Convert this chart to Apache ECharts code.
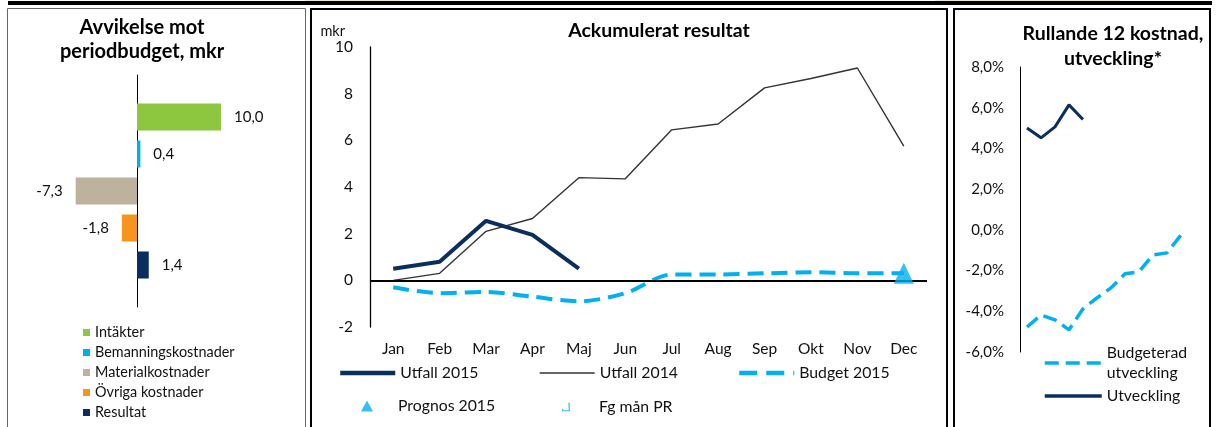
<!DOCTYPE html>
<html>
<head>
<meta charset="utf-8">
<script src="https://cdn.jsdelivr.net/npm/echarts@6/dist/echarts.min.js"></script>
<style>
html,body{margin:0;padding:0;background:#fff;}
#c{width:1216px;height:427px;}
</style>
</head>
<body>
<div id="c"></div>
<script>
// ---------- DATA ----------
const barCategories = ['Intäkter', 'Bemanningskostnader', 'Materialkostnader', 'Övriga kostnader', 'Resultat'];
const barValues = [10.0, 0.4, -7.3, -1.8, 1.4];

const months = ['Jan', 'Feb', 'Mar', 'Apr', 'Maj', 'Jun', 'Jul', 'Aug', 'Sep', 'Okt', 'Nov', 'Dec'];
const utfall2015 = [0.5, 0.8, 2.55, 1.95, 0.5];
const utfall2014 = [0, 0.3, 2.1, 2.65, 4.4, 4.35, 6.45, 6.7, 8.25, 8.65, 9.1, 5.75];
const budget2015 = [-0.3, -0.55, -0.5, -0.7, -0.9, -0.55, 0.25, 0.25, 0.3, 0.35, 0.3, 0.3];
const prognos2015 = [['Dec', 0.3]];
const fgManPR = [];

const rollMonths = ['Jan', 'Feb', 'Mar', 'Apr', 'Maj', 'Jun', 'Jul', 'Aug', 'Sep', 'Okt', 'Nov', 'Dec'];
const budgeteradUtveckling = [-4.77, -4.18, -4.42, -4.91, -3.88, -3.34, -2.85, -2.16, -2.06, -1.23, -1.13, -0.25];
const utveckling = [5.0, 4.52, 5.06, 6.14, 5.42];

// ---------- STYLE ----------
const FONT = 'Lato';
const TXT = '#111';
const barColors = ['#8dc63f', '#00aeef', '#bcb29e', '#f7941d', '#0a2f5f'];
const NAVY = '#0a2f5f';
const CYAN = '#00b0f0';

const chart = echarts.init(document.getElementById('c'), null, {renderer: 'canvas'});

const fmtComma = (v, d) => v.toFixed(d).replace('.', ',');

const barSeries = barCategories.map((name, i) => ({
  name: name,
  type: 'bar',
  xAxisIndex: 0, yAxisIndex: 0,
  stack: 'dev',
  barWidth: 27,
  itemStyle: {color: barColors[i]},
  label: {
    show: true,
    position: barValues[i] < 0 ? 'left' : 'right',
    distance: 13,
    fontFamily: FONT, fontSize: 15, color: TXT,
    formatter: p => fmtComma(p.value, 1)
  },
  data: barCategories.map((c, j) => (j === i ? barValues[j] : '-'))
}));

const legText = {fontFamily: FONT, fontSize: 15.8, color: TXT};
const hideSym = {opacity: 0};

const option = {
  animation: false,
  textStyle: {fontFamily: FONT},
  graphic: [
    {type: 'rect', shape: {x: 305, y: 0, width: 95, height: 2}, style: {fill: '#ece6dc'}, silent: true},
    {type: 'rect', shape: {x: 935, y: 0, width: 185, height: 2}, style: {fill: '#ece6dc'}, silent: true},
    {type: 'rect', shape: {x: 8, y: 1, width: 1204, height: 4}, style: {fill: '#000'}, silent: true},
    {type: 'rect', shape: {x: 7.5, y: 8.5, width: 298, height: 440}, style: {fill: 'none', stroke: '#666', lineWidth: 1}, silent: true},
    {type: 'rect', shape: {x: 311, y: 9, width: 636, height: 440}, style: {fill: 'none', stroke: '#000', lineWidth: 2}, silent: true},
    {type: 'rect', shape: {x: 954, y: 9, width: 256, height: 440}, style: {fill: 'none', stroke: '#000', lineWidth: 2}, silent: true}
  ],
  title: [
    {text: 'Avvikelse mot\nperiodbudget, mkr', left: 142, top: 16, textAlign: 'center', padding: 0,
     textStyle: {fontFamily: FONT, fontWeight: 'bold', fontSize: 20, lineHeight: 24, color: '#000'}},
    {text: 'Ackumulerat resultat', left: 659, top: 20, textAlign: 'center', padding: 0,
     textStyle: {fontFamily: FONT, fontWeight: 'bold', fontSize: 19.5, lineHeight: 22, color: '#000'}},
    {text: 'Rullande 12 kostnad,\nutveckling*', left: 1113, top: 21, textAlign: 'center', padding: 0,
     textStyle: {fontFamily: FONT, fontWeight: 'bold', fontSize: 19.5, lineHeight: 25, color: '#000'}}
  ],
  legend: [
    {data: barCategories, orient: 'vertical', left: 83, top: 325, itemWidth: 7, itemHeight: 7, itemGap: 5,
     padding: 0, icon: 'rect', textStyle: {fontFamily: FONT, fontSize: 14.4, lineHeight: 15, color: TXT}},
    {data: ['Utfall 2015'], left: 338, top: 365, itemWidth: 55, itemHeight: 14, padding: 0,
     itemStyle: hideSym, lineStyle: {width: 4.5}, textStyle: legText},
    {data: ['Utfall 2014'], left: 539, top: 365, itemWidth: 55, itemHeight: 14, padding: 0,
     itemStyle: hideSym, lineStyle: {width: 1.4}, textStyle: legText},
    {data: ['Budget 2015'], left: 737, top: 365, itemWidth: 55, itemHeight: 14, padding: 0,
     itemStyle: hideSym, lineStyle: {width: 4.5, type: 'dashed'}, textStyle: legText},
    {data: [{name: 'Prognos 2015', icon: 'triangle'}], left: 361, top: 398, itemWidth: 12, itemHeight: 11, padding: 0,
     textStyle: Object.assign({padding: [0, 0, 0, 20]}, legText)},
    {data: [{name: 'Fg mån PR', icon: 'path://M6.6,0 L8,0 L8.4,9 L0,9 L0,6.5 L1.3,6.5 L1.3,7.8 L7.1,7.8 Z'}],
     left: 562, top: 399, itemWidth: 8, itemHeight: 9, padding: 0,
     textStyle: Object.assign({padding: [0, 0, 0, 24]}, legText)},
    {data: ['Budgeterad\nutveckling'], left: 1043, top: 333, itemWidth: 57, itemHeight: 12, padding: 0,
     itemStyle: hideSym, lineStyle: {width: 3.5, type: 'dashed'},
     textStyle: Object.assign({}, legText, {lineHeight: 20, padding: [20, 0, 0, 0]})},
    {data: ['Utveckling'], left: 1043, top: 388, itemWidth: 57, itemHeight: 12, padding: 0,
     itemStyle: hideSym, lineStyle: {width: 3.5}, textStyle: legText}
  ],
  grid: [
    {left: 53, width: 201.6, top: 98.5, height: 185},
    {left: 53, width: 201.6, top: 75, height: 232},
    {left: 370, width: 557, top: 47, height: 280},
    {left: 1020, width: 168, top: 67, height: 285}
  ],
  xAxis: [
    {gridIndex: 0, type: 'value', min: -10, max: 14, show: false},
    {gridIndex: 1, type: 'value', min: -10, max: 14, show: false},
    {gridIndex: 2, type: 'category', data: months, boundaryGap: true,
     axisLine: {show: false}, axisTick: {show: false}, splitLine: {show: false},
     axisLabel: {margin: 14, fontFamily: FONT, fontSize: 15.5, color: TXT}},
    {gridIndex: 3, type: 'category', data: rollMonths, boundaryGap: true, show: false}
  ],
  yAxis: [
    {gridIndex: 0, type: 'category', data: barCategories, inverse: true, show: false},
    {gridIndex: 1, type: 'value', min: 0, max: 1,
     axisLine: {show: true, onZero: true, lineStyle: {color: '#000', width: 1}},
     axisTick: {show: false}, axisLabel: {show: false}, splitLine: {show: false}},
    {gridIndex: 2, type: 'value', min: -2, max: 10, interval: 2,
     name: 'mkr', nameLocation: 'end', nameGap: 16,
     nameTextStyle: {fontFamily: FONT, fontSize: 14.5, color: TXT, align: 'right', verticalAlign: 'middle', padding: [0, 25, 0, 0]},
     axisLine: {show: true, lineStyle: {color: '#000', width: 1.3}},
     axisTick: {show: false}, splitLine: {show: false},
     axisLabel: {margin: 17, fontFamily: FONT, fontSize: 15.5, color: TXT}},
    {gridIndex: 3, type: 'value', min: -6, max: 8, interval: 2,
     axisLine: {show: true, lineStyle: {color: '#000', width: 1}},
     axisTick: {show: false}, splitLine: {show: false},
     axisLabel: {margin: 16, fontFamily: FONT, fontSize: 15, color: TXT,
                 formatter: v => fmtComma(v, 1) + '%'}}
  ],
  series: barSeries.concat([
    {name: 'Utfall 2014', type: 'line', xAxisIndex: 2, yAxisIndex: 2, data: utfall2014,
     symbol: 'none', lineStyle: {color: '#333', width: 1.4}, itemStyle: {color: '#333'},
     markLine: {silent: true, symbol: 'none', label: {show: false},
                lineStyle: {color: '#000', width: 2, type: 'solid'}, data: [{yAxis: 0}]}, z: 3},
    {name: 'Budget 2015', type: 'line', xAxisIndex: 2, yAxisIndex: 2, data: budget2015,
     symbol: 'none', smooth: 0.3, lineStyle: {color: CYAN, width: 4, type: 'dashed'}, itemStyle: {color: CYAN}, z: 4},
    {name: 'Utfall 2015', type: 'line', xAxisIndex: 2, yAxisIndex: 2, data: utfall2015,
     symbol: 'none', lineStyle: {color: NAVY, width: 4}, itemStyle: {color: NAVY}, z: 5},
    {name: 'Prognos 2015', type: 'scatter', xAxisIndex: 2, yAxisIndex: 2, data: prognos2015,
     symbol: 'triangle', symbolSize: [20, 21], itemStyle: {color: CYAN}, z: 6},
    {name: 'Fg mån PR', type: 'scatter', xAxisIndex: 2, yAxisIndex: 2, data: fgManPR,
     itemStyle: {color: CYAN}},
    {name: 'Budgeterad\nutveckling', type: 'line', xAxisIndex: 3, yAxisIndex: 3, data: budgeteradUtveckling,
     symbol: 'none', lineStyle: {color: CYAN, width: 3.5, type: 'dashed'}, itemStyle: {color: CYAN}},
    {name: 'Utveckling', type: 'line', xAxisIndex: 3, yAxisIndex: 3, data: utveckling,
     symbol: 'none', lineStyle: {color: NAVY, width: 3}, itemStyle: {color: NAVY}}
  ])
};
chart.setOption(option);
</script>
</body>
</html>
